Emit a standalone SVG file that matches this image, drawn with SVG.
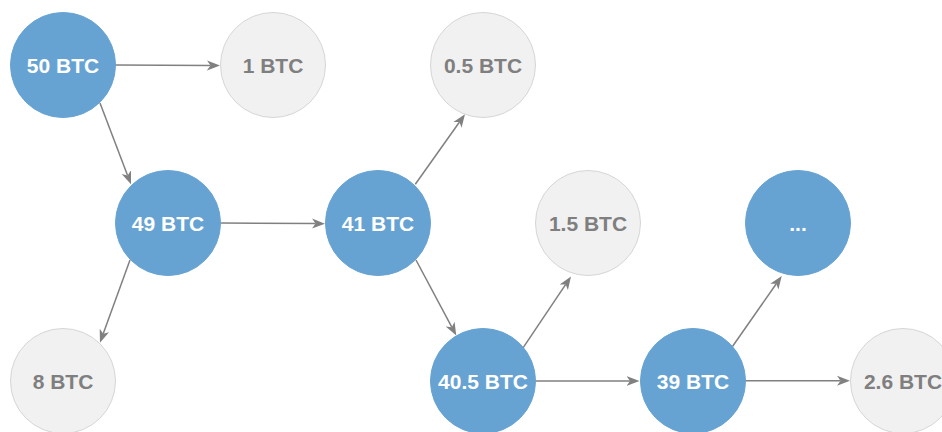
<svg xmlns="http://www.w3.org/2000/svg" width="942" height="432" viewBox="0 0 942 432">
  <style>
    .spent circle { fill: #67a3d2; stroke: #67a3d2; stroke-width: 1; }
    .out circle { fill: #f1f1f1; stroke: #d6d6d6; stroke-width: 1; }
    text { font-family: "Liberation Sans", Arial, Helvetica, sans-serif; font-size: 21px; font-weight: bold; text-anchor: middle; }
    .spent text { fill: #ffffff; }
    .out text { fill: #7f7f7f; }
    .edges path { fill: none; stroke: #808080; stroke-width: 1.5; marker-end: url(#arrow); }
  </style>
  <defs>
    <marker id="arrow" viewBox="0 0 13 11" refX="3.5" refY="5.5" markerWidth="13" markerHeight="11" markerUnits="userSpaceOnUse" orient="auto">
      <path d="M0,0.5 L13,5.5 L0,10.5 L3.5,5.5 Z" fill="#808080"/>
    </marker>
  </defs>
  <rect width="942" height="432" fill="#ffffff"/>

  <!-- connectors -->
  <g id="edges" class="edges">
    <path d="M115.5,65 L210.5,65.4"/>
    <path d="M100,103 L127.6,175.4"/>
    <path d="M221,223 L315.5,223.6"/>
    <path d="M130,260 L103.2,333.7"/>
    <path d="M415.3,184.3 L459.5,122"/>
    <path d="M416,260 L451.8,327.2"/>
    <path d="M522.7,348.4 L565.7,284.4"/>
    <path d="M535.5,381 L630,381"/>
    <path d="M732.3,346.7 L776.3,283.8"/>
    <path d="M745,380.7 L840.5,380.7"/>
  </g>

  <!-- nodes -->
  <g id="n50" class="spent"><circle cx="63" cy="65" r="52.5"/><text x="63" y="72.5">50 BTC</text></g>
  <g id="n1" class="out"><circle cx="273" cy="65" r="52.5"/><text x="273" y="72.5">1 BTC</text></g>
  <g id="n0_5" class="out"><circle cx="483" cy="65" r="52.5"/><text x="483" y="72.5">0.5 BTC</text></g>
  <g id="n49" class="spent"><circle cx="168" cy="223" r="52.5"/><text x="168" y="230.5">49 BTC</text></g>
  <g id="n41" class="spent"><circle cx="378" cy="223" r="52.5"/><text x="378" y="230.5">41 BTC</text></g>
  <g id="n1_5" class="out"><circle cx="588" cy="223" r="52.5"/><text x="588" y="230.5">1.5 BTC</text></g>
  <g id="nmore" class="spent"><circle cx="798" cy="223" r="52.5"/><text x="798" y="230.5">...</text></g>
  <g id="n8" class="out"><circle cx="63" cy="381" r="52.5"/><text x="63" y="388.5">8 BTC</text></g>
  <g id="n40_5" class="spent"><circle cx="483" cy="381" r="52.5"/><text x="483" y="388.5">40.5 BTC</text></g>
  <g id="n39" class="spent"><circle cx="693" cy="381" r="52.5"/><text x="693" y="388.5">39 BTC</text></g>
  <g id="n2_6" class="out"><circle cx="903" cy="381" r="52.5"/><text x="903" y="388.5">2.6 BTC</text></g>
</svg>
